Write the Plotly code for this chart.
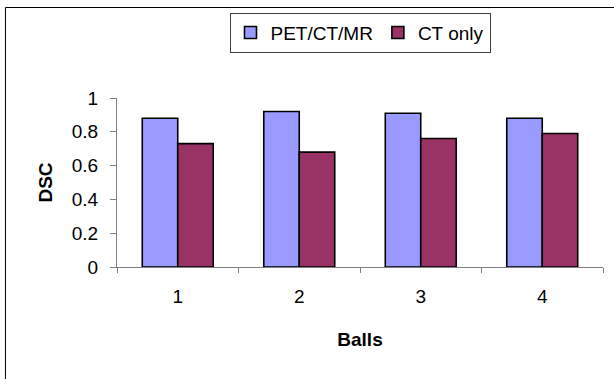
import plotly.graph_objects as go

# DSC per ball for each imaging setup
balls = ["1", "2", "3", "4"]
pet_ct_mr = [0.88, 0.92, 0.91, 0.88]
ct_only = [0.73, 0.68, 0.76, 0.79]

FONT = "Arial, Liberation Sans, sans-serif"

fig = go.Figure()
fig.add_trace(go.Bar(
    x=balls, y=pet_ct_mr, name="PET/CT/MR",
    marker=dict(color="#9999FF", line=dict(color="black", width=1.6)),
))
fig.add_trace(go.Bar(
    x=balls, y=ct_only, name="CT only",
    marker=dict(color="#993366", line=dict(color="black", width=1.6)),
))

fig.update_layout(
    width=614, height=379,
    margin=dict(l=117, r=11, t=98, b=112),
    paper_bgcolor="white", plot_bgcolor="white",
    font=dict(family=FONT, size=19, color="black"),
    barmode="group", bargap=0.416, bargroupgap=0,
    showlegend=True,
    legend=dict(
        orientation="h", x=0.5, xanchor="center", y=1.505, yanchor="top",
        bgcolor="white", bordercolor="#404040", borderwidth=1,
        font=dict(family=FONT, size=19, color="black"),
        itemclick=False,
    ),
    xaxis=dict(
        type="category", showgrid=False, zeroline=False,
        showline=True, linecolor="#808080", linewidth=1,
        ticks="outside", tickson="boundaries", ticklen=5, tickcolor="#808080",
        ticklabelstandoff=12,
        title=dict(text="<b>Balls</b>", standoff=26,
                   font=dict(family=FONT, size=19, color="black")),
    ),
    yaxis=dict(
        range=[0, 1], dtick=0.2, showgrid=False, zeroline=False,
        showline=True, linecolor="#808080", linewidth=1,
        ticks="outside", ticklen=6, tickcolor="#808080",
        ticklabelstandoff=8,
        title=dict(text="<b>DSC</b>", standoff=14,
                   font=dict(family=FONT, size=19, color="black")),
    ),
    shapes=[dict(
        type="rect", xref="paper", yref="paper",
        x0=-0.2295, x1=1.2, y0=-1.0, y1=1.5355,
        line=dict(color="black", width=1), fillcolor="rgba(0,0,0,0)",
        layer="below",
    )],
)

fig.write_html("out.html")
